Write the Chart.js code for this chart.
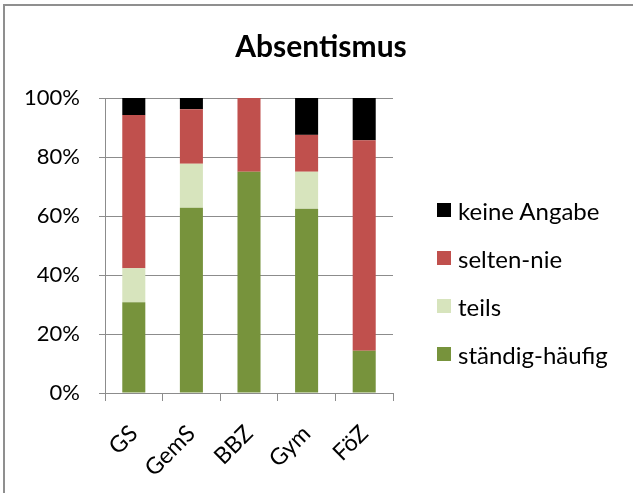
<!DOCTYPE html>
<html>
<head>
<meta charset="utf-8">
<script src="https://cdn.jsdelivr.net/npm/chart.js@4"></script>
<style>
  html, body { margin: 0; padding: 0; background: #fff; }
  #wrap { width: 633px; height: 493px; position: relative; overflow: hidden; }
  canvas { display: block; position: absolute; left: 0; top: 0; }
  .bt { position: absolute; left: 3px; top: 4px; right: 0; height: 2px; background: #8f8f8f; }
  .bl { position: absolute; left: 3px; top: 4px; bottom: 0; width: 2px; background: #8f8f8f; }
  #title { position: absolute; left: 0; width: 642px; top: 27px; text-align: center; font-family: Lato, sans-serif; font-weight: bold; font-size: 30px; line-height: 36px; color: #000; }
  #legend { position: absolute; left: 437px; top: 0; font-family: Lato, sans-serif; font-size: 24px; color: #000; }
  .item { position: absolute; left: 0; white-space: nowrap; display: flex; align-items: center; height: 30px; }
  .box { width: 14px; height: 14px; margin-right: 7px; flex: none; }
</style>
</head>
<body>
<div id="wrap">
  <canvas id="c" width="633" height="493"></canvas>
  <div class="bt"></div><div class="bl"></div>
  <div id="title">Absentismus</div>
  <div id="legend"></div>
</div>
<script>
const categories = ["GS", "GemS", "BBZ", "Gym", "FöZ"];
const staendigHaeufig = [30.8, 62.8, 75.0, 62.5, 14.3];
const teils = [11.5, 14.9, 0, 12.5, 0];
const seltenNie = [51.9, 18.5, 25.0, 12.5, 71.4];
const keineAngabe = [5.8, 3.8, 0, 12.5, 14.3];
const yTicks = [0, 20, 40, 60, 80, 100];

const FONT = "Lato, 'Open Sans', sans-serif";
const gridColor = "#8c8c8c";

const datasets = [
  { label: "ständig-häufig", data: staendigHaeufig, backgroundColor: "#77933C" },
  { label: "teils", data: teils, backgroundColor: "#D7E4BD" },
  { label: "selten-nie", data: seltenNie, backgroundColor: "#C0504D" },
  { label: "keine Angabe", data: keineAngabe, backgroundColor: "#000000" }
];

// HTML legend built from datasets (reverse order, like the reference)
const legendCenters = [210, 258, 306, 354];
const legendEl = document.getElementById("legend");
datasets.slice().reverse().forEach((ds, i) => {
  const it = document.createElement("div");
  it.className = "item";
  it.style.top = (legendCenters[i] - 15) + "px";
  const b = document.createElement("span");
  b.className = "box";
  b.style.background = ds.backgroundColor;
  const t = document.createElement("span");
  t.textContent = ds.label;
  it.appendChild(b); it.appendChild(t);
  legendEl.appendChild(it);
});

function draw() {
  new Chart(document.getElementById("c"), {
    type: "bar",
    data: { labels: categories, datasets: datasets },
    options: {
      responsive: false,
      animation: false,
      devicePixelRatio: 1,
      layout: { padding: { left: 10, right: 240, top: 98, bottom: 0 } },
      datasets: { bar: { barPercentage: 0.4, categoryPercentage: 1.0 } },
      plugins: {
        title: { display: false },
        legend: { display: false },
        tooltip: { enabled: false }
      },
      scales: {
        x: {
          stacked: true,
          afterFit: (s) => { s.height = 100; },
          grid: { offset: true, drawOnChartArea: false, drawTicks: true, tickLength: 8, color: gridColor },
          border: { display: true, color: gridColor },
          ticks: {
            color: "#000",
            font: { family: FONT, size: 23 },
            minRotation: 45,
            maxRotation: 45,
            padding: 19
          }
        },
        y: {
          stacked: true,
          min: 0,
          max: 100,
          afterFit: (s) => { s.width = 95; },
          afterBuildTicks: (axis) => { axis.ticks = yTicks.map(v => ({ value: v })); },
          grid: { color: gridColor, tickLength: 6 },
          border: { display: true, color: gridColor },
          ticks: {
            color: "#000",
            font: { family: FONT, size: 22 },
            padding: 19,
            callback: (v) => v + "%"
          }
        }
      }
    }
  });
}

Promise.all([
  document.fonts.load("22px Lato"),
  document.fonts.load("bold 30px Lato")
]).then(draw, draw);
</script>
</body>
</html>
